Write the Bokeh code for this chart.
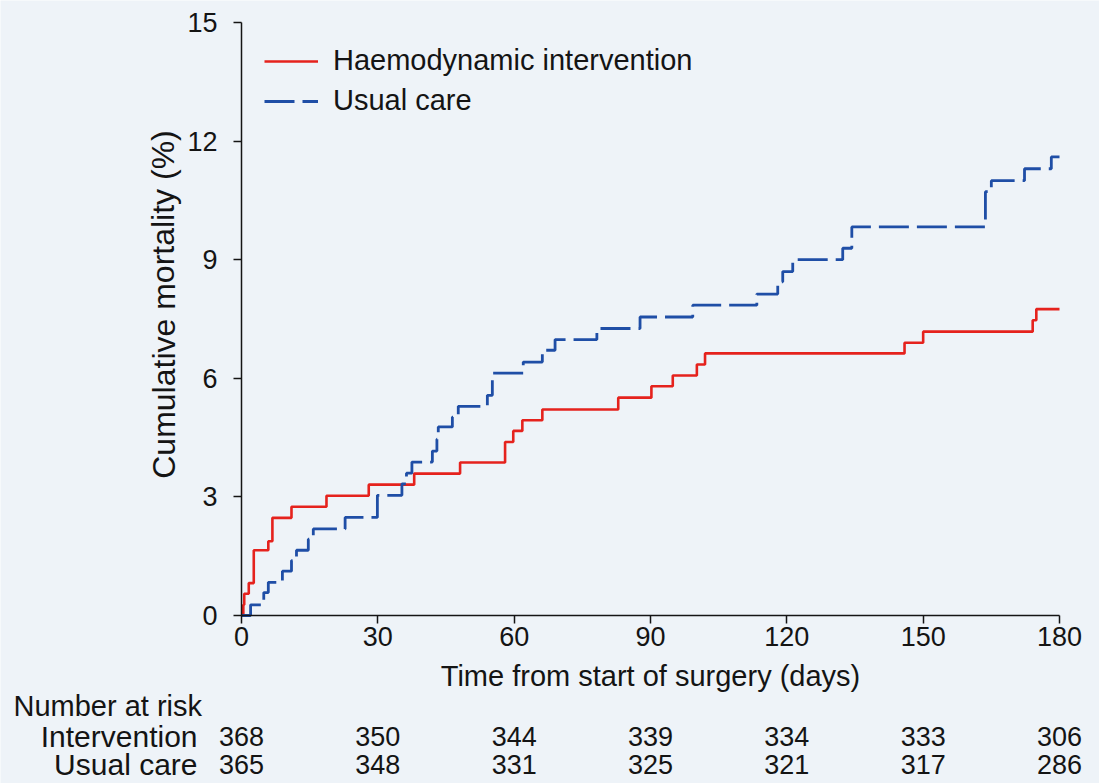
from bokeh.plotting import figure
from bokeh.models import Range1d, FixedTicker, Legend, LegendItem
from bokeh.core.properties import value
from bokeh.embed import file_html
from bokeh.resources import INLINE

# Kaplan-Meier style cumulative mortality (%) by day since start of surgery
interv_days = [0, 0.4, 0.6, 1.6, 2.7, 5.9, 6.8, 11.0, 18.7, 28.0, 38.0, 48.1,
               58.0, 59.8, 61.8, 66.2, 82.9, 90.2, 94.9, 100.2, 102.0,
               145.9, 150.0, 174.1, 174.9, 180.0]
interv_mort = [0, 0.27, 0.55, 0.82, 1.65, 1.88, 2.47, 2.75, 3.03, 3.31, 3.59, 3.87,
               4.39, 4.67, 4.94, 5.21, 5.51, 5.80, 6.07, 6.35, 6.63,
               6.90, 7.18, 7.47, 7.75, 7.75]

usual_days = [0, 2.0, 4.9, 5.9, 9.0, 11.0, 12.1, 14.7, 15.8, 22.8, 29.9, 35.3,
              36.3, 37.5, 42.0, 43.0, 43.3, 46.4, 47.7, 54.1, 55.2, 62.0, 66.2,
              69.0, 78.2, 87.7, 99.3, 113.4, 118.0, 119.1, 121.3, 132.3, 134.3,
              163.7, 165.0, 172.3, 178.2, 180.0]
usual_mort = [0, 0.27, 0.58, 0.84, 1.12, 1.39, 1.65, 1.93, 2.19, 2.48, 3.04, 3.33,
              3.60, 3.88, 4.16, 4.46, 4.77, 5.02, 5.29, 5.57, 6.13, 6.41, 6.71,
              6.98, 7.26, 7.55, 7.85, 8.13, 8.44, 8.70, 9.00, 9.29, 9.83,
              10.72, 11.00, 11.30, 11.60, 11.60]

# Number-at-risk table
risk_days = [0, 30, 60, 90, 120, 150, 180]
risk_interv = [368, 350, 344, 339, 334, 333, 306]
risk_usual = [365, 348, 331, 325, 321, 317, 286]
risk_groups = ["Intervention", "Usual care"]

x_ticks = [0, 30, 60, 90, 120, 150, 180]
y_ticks = [0, 3, 6, 9, 12, 15]

RED = "#e5221d"
BLUE = "#1f4ea6"
BG = "#eef3f8"
INK = "#141414"
FONT = "Liberation Sans"

# Canvas geometry: plotting box 241..1059 px across, 22..615 px down.
W, H = 1099, 783
BOX_L, BOX_R, BOX_T, BOX_B = 241, 1059, 22, 615
day_px = (BOX_R - BOX_L) / 180.0
pct_px = (BOX_B - BOX_T) / 15.0

def px_x(px):
    return (px - BOX_L) / day_px

def px_y(py):
    return (BOX_B - py) / pct_px

# The frame covers the whole canvas so the table and titles can be drawn as
# text glyphs; the axes are pinned at x=0 and y=0.
p = figure(width=W, height=H, output_backend="svg", toolbar_location=None,
           x_range=Range1d(px_x(0), px_x(W)), y_range=Range1d(px_y(H), px_y(0)),
           min_border=0, min_border_left=0, min_border_right=0,
           min_border_top=0, min_border_bottom=0)
p.background_fill_color = BG
p.border_fill_color = BG
p.outline_line_color = None
p.xgrid.visible = False
p.ygrid.visible = False

for ax in (p.xaxis[0], p.yaxis[0]):
    ax.fixed_location = 0
    ax.major_tick_in = 0
    ax.major_tick_out = 8
    ax.minor_tick_out = 0
    ax.minor_tick_in = 0
    ax.axis_line_color = INK
    ax.major_tick_line_color = INK
    ax.axis_line_width = 1.5
    ax.major_tick_line_width = 1.5
    ax.major_label_text_font = FONT
    ax.major_label_text_font_size = "27px"
    ax.major_label_text_color = INK

p.xaxis.ticker = FixedTicker(ticks=x_ticks)
p.yaxis.ticker = FixedTicker(ticks=y_ticks)
p.xaxis.bounds = (0, 180)
p.yaxis.bounds = (0, 15)
p.xaxis.major_label_standoff = 3
p.yaxis.major_label_standoff = 16

r_int = p.step(interv_days, interv_mort, mode="after", line_color=RED, line_width=2.6)
r_usu = p.step(usual_days, usual_mort, mode="after", line_color=BLUE, line_width=2.8,
               line_dash="30 8")

legend = Legend(items=[LegendItem(label="Haemodynamic intervention", renderers=[r_int]),
                       LegendItem(label="Usual care", renderers=[r_usu])],
                location=(264, 666), glyph_width=54, glyph_height=20, spacing=7,
                padding=0, margin=0, label_standoff=15,
                label_text_font=FONT, label_text_font_size="29px",
                label_text_color=INK, background_fill_alpha=0,
                border_line_color=None)
p.add_layout(legend)

txt = dict(text_font=value(FONT), text_color=INK, text_baseline="middle")

# Axis titles
p.text(x=[px_x(163)], y=[px_y(304)], text=["Cumulative mortality (%)"], angle=1.5708,
       text_align="center", text_font_size="32px", **txt)
p.text(x=[90], y=[px_y(675)], text=["Time from start of surgery (days)"],
       text_align="center", text_font_size="29px", **txt)

# Number at risk
p.text(x=[px_x(13)], y=[px_y(705)], text=["Number at risk"],
       text_align="left", text_font_size="29px", **txt)
row_y = [px_y(736), px_y(764)]
p.text(x=[px_x(197)] * 2, y=row_y, text=risk_groups,
       text_align="right", text_font_size="30px", **txt)
p.text(x=risk_days, y=[row_y[0]] * len(risk_days), text=[str(v) for v in risk_interv],
       text_align="center", text_font_size="27px", **txt)
p.text(x=risk_days, y=[row_y[1]] * len(risk_days), text=[str(v) for v in risk_usual],
       text_align="center", text_font_size="27px", **txt)

open("out.html", "w").write(file_html(p, INLINE))
